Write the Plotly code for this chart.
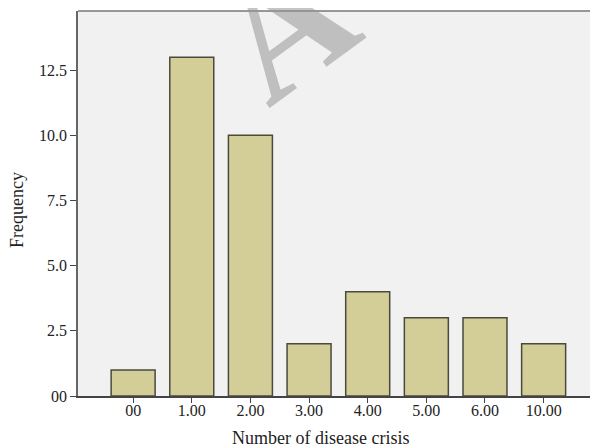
import plotly.graph_objects as go

categories = ["00", "1.00", "2.00", "3.00", "4.00", "5.00", "6.00", "10.00"]
frequency = [1, 13, 10, 2, 4, 3, 3, 2]
y_tick_vals = [0, 2.5, 5.0, 7.5, 10.0, 12.5]
y_tick_text = ["00", "2.5", "5.0", "7.5", "10.0", "12.5"]

FONT = "Liberation Serif"
# page body has an 8px margin; figure is sized so the plot lands where the reference has it
W, H = 590, 440
PL, PT, PR, PB = 78, 11, 597, 396  # plot area in page pixels
OFF = 8

def px(x):
    return (x - PL) / (PR - PL)

def py(y):
    return (PB - y) / (PB - PT)

fig = go.Figure()
fig.add_trace(go.Bar(
    x=categories, y=frequency, width=0.75,
    marker=dict(color="#d3ce98", line=dict(color="#4a4a3c", width=1.5)),
))

fig.update_layout(
    width=W, height=H,
    margin=dict(l=PL - OFF, r=W + OFF - PR, t=PT - OFF, b=H + OFF - PB, pad=0),
    paper_bgcolor="white", plot_bgcolor="#f1f1f1",
    showlegend=False,
    font=dict(family=FONT, size=16, color="#222"),
    xaxis=dict(
        type="category", range=[-0.94, 7.91],
        showline=True, linecolor="#444", linewidth=1.5,
        ticks="outside", ticklen=5, tickcolor="#444", tickwidth=1.2,
        ticklabelstandoff=-6,
        showgrid=False, zeroline=False,
        tickfont=dict(family=FONT, size=16, color="#222"),
    ),
    yaxis=dict(
        range=[0, 14.77], tickvals=y_tick_vals, ticktext=y_tick_text,
        showline=True, linecolor="#666", linewidth=1.5,
        ticks="outside", ticklen=6, tickcolor="#444", tickwidth=1.2,
        showgrid=False, zeroline=False,
        tickfont=dict(family=FONT, size=16, color="#222"),
    ),
    shapes=[
        dict(type="line", xref="paper", yref="paper", x0=0, x1=1, y0=1, y1=1,
             line=dict(color="#777", width=1.5)),
        dict(type="line", xref="paper", yref="paper", x0=1, x1=1, y0=0, y1=1,
             line=dict(color="#cfcfcf", width=1)),
    ],
    annotations=[
        dict(text="Number of disease crisis", xref="paper", yref="paper",
             x=px(320), y=py(438), showarrow=False,
             font=dict(family=FONT, size=18, color="#222"),
             xanchor="center", yanchor="middle"),
        dict(text="Frequency", xref="paper", yref="paper",
             x=px(17), y=py(210), showarrow=False,
             textangle=-90, font=dict(family=FONT, size=18, color="#222"),
             xanchor="center", yanchor="middle"),
        dict(text="<b>A</b>", xref="paper", yref="paper",
             x=px(284), y=py(27), showarrow=False,
             textangle=-36, font=dict(family=FONT, size=170, color="rgba(150,150,150,0.55)"),
             xanchor="center", yanchor="middle"),
    ],
)

fig.write_html("out.html")
